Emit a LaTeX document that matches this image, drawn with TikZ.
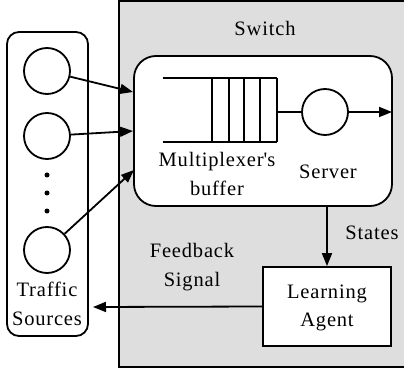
\documentclass[tikz,border=0pt]{standalone}
\usepackage{fontspec}
\setmainfont[LetterSpace=4]{Liberation Serif}
\usetikzlibrary{arrows.meta}
\begin{document}
\begin{tikzpicture}[x=1pt,y=-1pt,
  line width=1.8pt,
  every node/.style={font=\rmfamily\fontsize{20.5}{28.5}\selectfont},
  lbl/.style={inner sep=0pt,align=center},
  srcbox/.style={draw,rounded corners=12pt,minimum width=81pt,minimum height=304pt,inner sep=0pt},
  src/.style={draw,circle,minimum size=46pt,inner sep=0pt},
  dot/.style={fill,circle,minimum size=5pt,inner sep=0pt},
  switchbox/.style={draw,fill=white,rounded corners=22pt,minimum width=258pt,minimum height=150pt,inner sep=0pt},
  agentbox/.style={draw,fill=white,minimum width=128pt,minimum height=79pt,inner sep=0pt},
  arr/.style={-{Triangle[length=13pt,width=10pt]}}]
\useasboundingbox (0,0) rectangle (404,374);
% switch background
\draw[fill=black!13,line width=2.2pt] (119,1) rectangle (410,367);
\node[lbl] (switch) at (265,28) {Switch};
% traffic sources
\node[srcbox] (sources) at (47.5,184) {};
\node[src] (s1) at (47,71) {};
\node[src] (s2) at (47,136) {};
\node[src] (s3) at (47,250) {};
\node[dot] (d1) at (47,175) {};
\node[dot] (d2) at (47,193) {};
\node[dot] (d3) at (47,211) {};
\node[lbl] (srclabel) at (47,304) {Traffic\\Sources};
% multiplexer and server
\node[switchbox] (mux) at (263,131) {};
\coordinate (in1) at (133,92);
\coordinate (in2) at (133,131);
\coordinate (in3) at (134,170);
\draw (163,78) -- (277,78) (163,142) -- (277,142);
\foreach \x in {212,229,244,260,277} \draw (\x,78) -- (\x,142);
\coordinate (qout) at (277,112);
\node[src] (server) at (325,112) {};
\coordinate (out) at (392,112);
\node[lbl] (muxlabel) at (217,174) {Multiplexer\textquotesingle s\\buffer};
\node[lbl] (serverlabel) at (328,172) {Server};
% learning agent
\node[agentbox] (agent) at (327,306.5) {};
\node[lbl] (agentlabel) at (327,308) {Learning\\Agent};
\node[lbl] (states) at (372,233) {States};
\node[lbl] (feedback) at (192,267) {Feedback\\Signal};
\coordinate (fbend) at (93,307);
% connectors
\draw[arr] (s1) -- (in1);
\draw[arr] (s2) -- (in2);
\draw[arr] (s3) -- (in3);
\draw (qout) -- (server);
\draw[arr] (server) -- (out);
\draw[arr] (mux.south -| agentlabel) -- (agent.north -| agentlabel);
\draw[arr] (agent.west) -- (fbend);
\end{tikzpicture}
\end{document}
